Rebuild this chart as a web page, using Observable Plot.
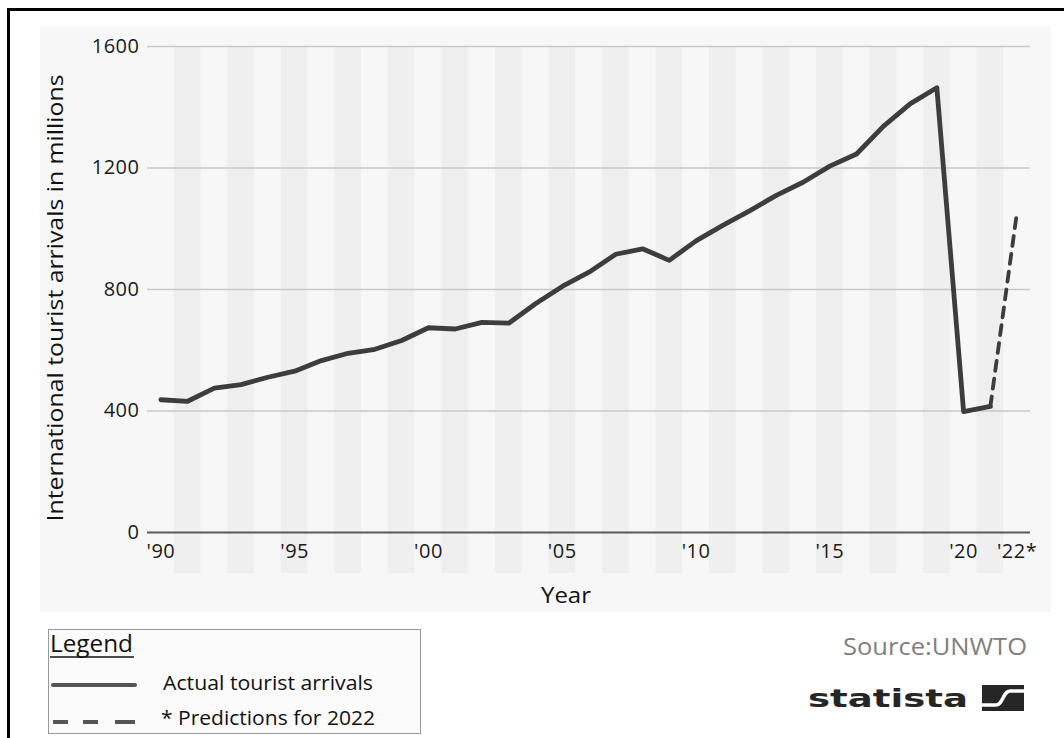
<!DOCTYPE html>
<html>
<head>
<meta charset="utf-8">
<script src="https://cdn.jsdelivr.net/npm/d3@7"></script>
<script src="https://cdn.jsdelivr.net/npm/@observablehq/plot@0.6"></script>
<style>
  html, body { margin: 0; padding: 0; background: #ffffff; }
  body { width: 1064px; height: 738px; position: relative; overflow: hidden; font-family: "Open Sans", sans-serif; }
  #frame { position: absolute; left: 7px; top: 8px; width: 1100px; height: 800px; border-left: 3px solid #000; border-top: 3px solid #000; box-sizing: border-box; }
  #panel { position: absolute; left: 40px; top: 26px; width: 1011px; height: 586px; background: #f7f7f7; }
  #chart { position: absolute; left: 0; top: 0; }
  #overlay { position: absolute; left: 0; top: 0; }
</style>
</head>
<body>
<div id="frame"></div>
<div id="panel"></div>
<div id="chart"></div>
<svg id="overlay" width="1064" height="738"></svg>
<script>
// ---- Data ----
const actualYears = [1990, 1991, 1992, 1993, 1994, 1995, 1996, 1997, 1998, 1999,
                     2000, 2001, 2002, 2003, 2004, 2005, 2006, 2007, 2008, 2009,
                     2010, 2011, 2012, 2013, 2014, 2015, 2016, 2017, 2018, 2019,
                     2020, 2021];
const actualArrivals = [437, 432, 475, 487, 511, 531, 566, 590, 603, 632,
                        674, 670, 692, 689, 753, 810, 857, 916, 934, 896,
                        960, 1011, 1059, 1110, 1153, 1206, 1246, 1337, 1411, 1464,
                        398, 415];
const forecastYears = [2021, 2022];
const forecastArrivals = [415, 1058];

const xTickYears = [1990, 1995, 2000, 2005, 2010, 2015, 2020, 2022];
const xTickLabels = ["'90", "'95", "'00", "'05", "'10", "'15", "'20", "'22*"];
const yTicks = [0, 400, 800, 1200, 1600];
const yTickLabels = ["0", "400", "800", "1200", "1600"];
const yGridTicks = [400, 800, 1200, 1600];
const stripeYears = [1991, 1993, 1995, 1997, 1999, 2001, 2003, 2005, 2007, 2009,
                     2011, 2013, 2015, 2017, 2019, 2021];

const yAxisTitle = "International tourist arrivals in millions";
const xAxisTitle = "Year";
const legendTitle = "Legend";
const legendActual = "Actual tourist arrivals";
const legendForecast = "* Predictions for 2022";
const sourceText = "Source:UNWTO";
const brandText = "statista";

// ---- Tables for the library ----
const actual = actualYears.map((year, i) => ({year, value: actualArrivals[i]}));
const forecast = forecastYears.map((year, i) => ({year, value: forecastArrivals[i]}));

const chart = Plot.plot({
  width: 1064,
  height: 620,
  marginLeft: 147,
  marginRight: 34,
  marginTop: 46,
  marginBottom: 47,
  x: {domain: [1989.5, 2022.5], axis: null},
  y: {domain: [-135, 1600], axis: null},
  style: {
    background: "transparent",
    fontFamily: "\"Open Sans\", sans-serif",
    fontSize: "20px",
    color: "#1a1a1a",
    letterSpacing: "0.5px",
    overflow: "visible"
  },
  marks: [
    Plot.rect(stripeYears, {x1: d => d - 0.5, x2: d => d + 0.5, fill: "#efefef"}),
    Plot.ruleY(yGridTicks, {stroke: "#c9c9c9", strokeWidth: 1.5}),
    Plot.ruleY([0], {stroke: "#5a5a5a", strokeWidth: 2}),
    Plot.axisY({ticks: yTicks, tickFormat: d => yTickLabels[yTicks.indexOf(d)], tickSize: 0, tickPadding: 8, label: null, fill: "#1a1a1a", fontSize: 20}),
    Plot.text(xTickYears, {x: d => d, text: (d, i) => xTickLabels[i], frameAnchor: "bottom", dy: -16, fill: "#1a1a1a", fontSize: 20}),
    Plot.line(actual, {x: "year", y: "value", stroke: "#3d3d3d", strokeWidth: 4.8, strokeLinejoin: "round", strokeLinecap: "round"}),
    Plot.line(forecast, {x: "year", y: "value", stroke: "#3d3d3d", strokeWidth: 3.8, strokeDasharray: "10,8"})
  ]
});
document.getElementById("chart").appendChild(chart);

// ---- Titles, legend, source and logo ----
const ov = d3.select("#overlay");
const font = "\"Open Sans\", sans-serif";

ov.append("text")
  .attr("transform", "translate(63,298) rotate(-90)")
  .attr("text-anchor", "middle")
  .attr("font-family", font).attr("font-size", 22).attr("fill", "#111")
  .attr("textLength", 447).attr("lengthAdjust", "spacingAndGlyphs")
  .text(yAxisTitle);

ov.append("text")
  .attr("x", 541).attr("y", 603)
  .attr("font-family", font).attr("font-size", 22).attr("fill", "#111")
  .attr("textLength", 50).attr("lengthAdjust", "spacingAndGlyphs")
  .text(xAxisTitle);

// legend box
ov.append("rect")
  .attr("x", 48.5).attr("y", 629.5).attr("width", 372).attr("height", 104)
  .attr("fill", "#fbfbfb").attr("stroke", "#9a9a9a").attr("stroke-width", 1);
ov.append("text")
  .attr("x", 50).attr("y", 652)
  .attr("font-family", font).attr("font-size", 23).attr("fill", "#111")
  .attr("textLength", 83).attr("lengthAdjust", "spacingAndGlyphs")
  .text(legendTitle);
ov.append("line")
  .attr("x1", 50).attr("x2", 134).attr("y1", 657).attr("y2", 657)
  .attr("stroke", "#111").attr("stroke-width", 1.5);
ov.append("line")
  .attr("x1", 53).attr("x2", 135).attr("y1", 685).attr("y2", 685)
  .attr("stroke", "#555").attr("stroke-width", 4).attr("stroke-linecap", "round");
ov.append("line")
  .attr("x1", 53).attr("x2", 135).attr("y1", 722).attr("y2", 722)
  .attr("stroke", "#555").attr("stroke-width", 4).attr("stroke-dasharray", "15,15,15,17,20");
ov.append("text")
  .attr("x", 163).attr("y", 690)
  .attr("font-family", font).attr("font-size", 20).attr("fill", "#111")
  .attr("textLength", 210).attr("lengthAdjust", "spacingAndGlyphs")
  .text(legendActual);
ov.append("text")
  .attr("x", 161).attr("y", 725)
  .attr("font-family", font).attr("font-size", 20).attr("fill", "#111")
  .attr("textLength", 214).attr("lengthAdjust", "spacingAndGlyphs")
  .text(legendForecast);

// source
ov.append("text")
  .attr("x", 843).attr("y", 655)
  .attr("font-family", font).attr("font-size", 23).attr("fill", "#808080")
  .attr("textLength", 184).attr("lengthAdjust", "spacingAndGlyphs")
  .text(sourceText);

// logo
ov.append("text")
  .attr("x", 808).attr("y", 707)
  .attr("font-family", "\"DejaVu Sans\", sans-serif").attr("font-weight", "bold")
  .attr("font-size", 25).attr("fill", "#262626")
  .attr("textLength", 160).attr("lengthAdjust", "spacingAndGlyphs")
  .text(brandText);
const logo = ov.append("g").attr("transform", "translate(982,685)");
logo.append("rect").attr("width", 42).attr("height", 26).attr("fill", "#262626");
logo.append("path")
  .attr("d", "M-1,20 L14,20 C21,20 21,6 28,6 L43,6")
  .attr("fill", "none").attr("stroke", "#fff").attr("stroke-width", 3.5);
</script>
</body>
</html>
